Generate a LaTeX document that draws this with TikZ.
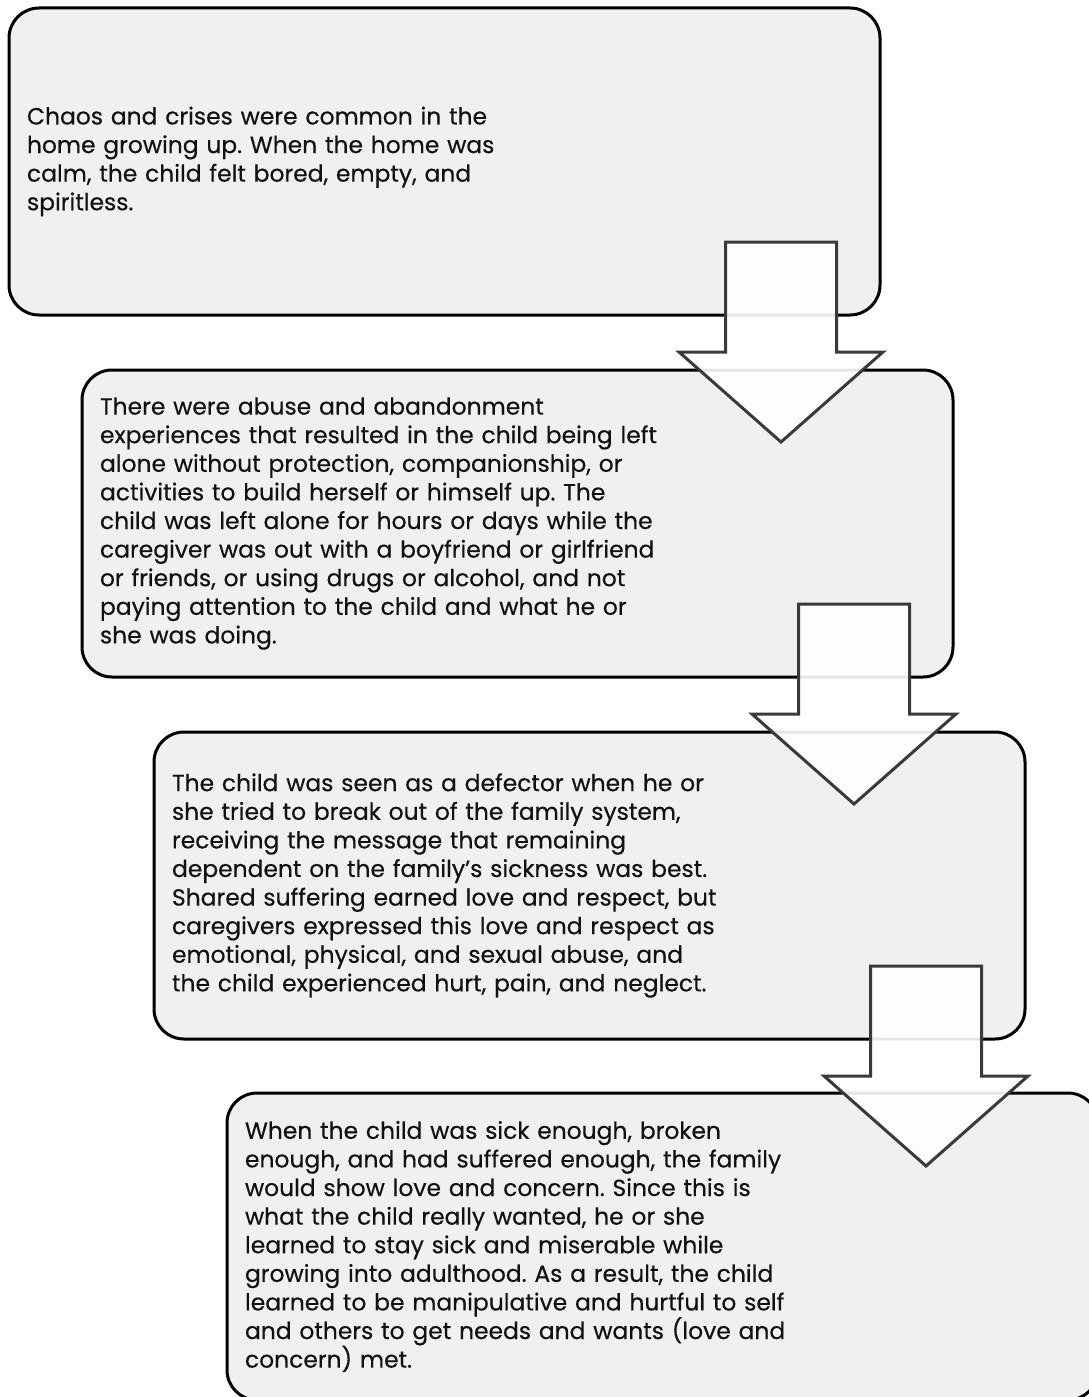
\documentclass[tikz,border=0pt]{standalone}
\usepackage{fontspec}
\setmainfont{Poppins}[FakeBold=0.35]
\usetikzlibrary{calc}
\definecolor{boxfill}{HTML}{F0F0F0}
\definecolor{arrowline}{HTML}{3A3A3A}
\definecolor{textcol}{HTML}{111111}
\tikzset{
  stagebox/.style={draw=black, line width=3pt, fill=boxfill, rounded corners=30pt,
    outer sep=0pt, minimum width=871pt, minimum height=307pt, text width=835pt,
    inner xsep=18pt, align=left, anchor=north west, text=textcol,
    font=\fontsize{23.4pt}{28.6pt}\selectfont},
  blockarrow/.style={draw=arrowline, line width=3pt, fill=white, fill opacity=0.9,
    line join=miter},
}
\newcommand{\downarrowshape}[1]{%
  \draw[blockarrow, shift={(#1)}] (0,0) -- (-102,90) -- (-55.5,90) -- (-55.5,200)
    -- (55.5,200) -- (55.5,90) -- (102,90) -- cycle;}
\frenchspacing
\begin{document}
\begin{tikzpicture}[x=1pt, y=1pt]
\useasboundingbox (0,0) rectangle (1089,-1397);
\clip (0,0) rectangle (1089,-1397);

\node[stagebox] (b1) at (9,-8) {Chaos and crises were common in the\\
home growing up. When the home was\\
calm, the child felt bored, empty, and\\
spiritless.};

\node[stagebox] (b2) at (82,-370) {There were abuse and abandonment\\
experiences that resulted in the child being left\\
alone without protection, companionship, or\\
activities to build herself or himself up. The\\
child was left alone for hours or days while the\\
caregiver was out with a boyfriend or girlfriend\\
or friends, or using drugs or alcohol, and not\\
paying attention to the child and what he or\\
she was doing.};

\node[stagebox] (b3) at (154,-732) {The child was seen as a defector when he or\\
she tried to break out of the family system,\\
receiving the message that remaining\\
dependent on the family’s sickness was best.\\
Shared suffering earned love and respect, but\\
caregivers expressed this love and respect as\\
emotional, physical, and sexual abuse, and\\
the child experienced hurt, pain, and neglect.};

\node[stagebox] (b4) at (227,-1093) {When the child was sick enough, broken\\
enough, and had suffered enough, the family\\
would show love and concern. Since this is\\
what the child really wanted, he or she\\
learned to stay sick and miserable while\\
growing into adulthood. As a result, the child\\
learned to be manipulative and hurtful to self\\
and others to get needs and wants (love and\\
concern) met.};

% block arrows between consecutive stages, tips placed from the box corners
\coordinate (t1) at ($(b1.south east)+(-99,-127)$);
\coordinate (t2) at ($(b2.south east)+(-99,-127)$);
\coordinate (t3) at ($(b3.south east)+(-99,-127)$);
\downarrowshape{t1}
\downarrowshape{t2}
\downarrowshape{t3}
\end{tikzpicture}
\end{document}
